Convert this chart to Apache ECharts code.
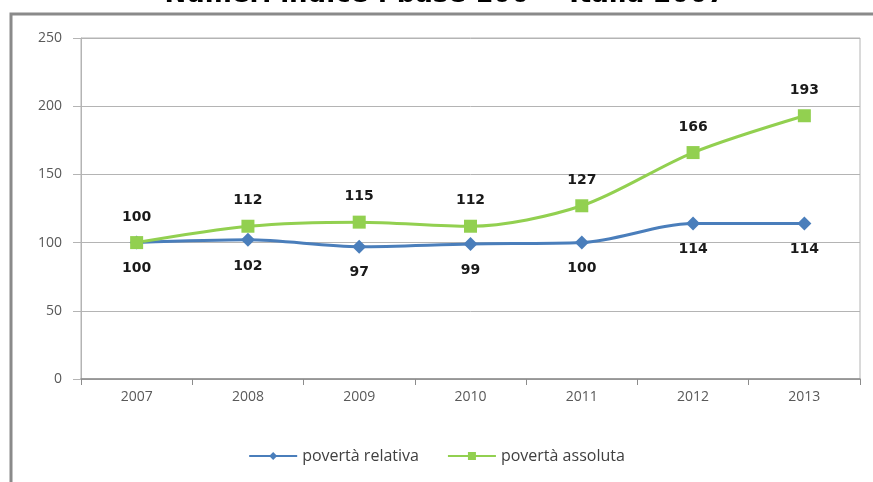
<!DOCTYPE html>
<html>
<head>
<meta charset="utf-8">
<script src="https://cdn.jsdelivr.net/npm/echarts@6/dist/echarts.min.js"></script>
<style>
  html, body { margin: 0; padding: 0; background: #fff; }
  #chart { width: 873px; height: 482px; }
</style>
</head>
<body>
<div id="chart"></div>
<script>
const years = ['2007', '2008', '2009', '2010', '2011', '2012', '2013'];
const relativa = [100, 102, 97, 99, 100, 114, 114];
const assoluta = [100, 112, 115, 112, 127, 166, 193];
const titleText = 'Numeri indice : base 100 = Italia 2007';

const blue = '#4A7EBB';
const green = '#92D050';

const chart = echarts.init(document.getElementById('chart'));

const option = {
  animation: false,
  backgroundColor: '#fff',
  graphic: [
    {
      // titolo tagliato in alto come nell'originale
      type: 'text',
      x: 445,
      y: 8,
      style: {
        text: titleText,
        align: 'center',
        verticalAlign: 'bottom',
        fontFamily: 'DejaVu Sans',
        fontSize: 26,
        fontWeight: 'bold',
        fill: '#000'
      },
      z: 10
    },
    {
      type: 'rect',
      shape: { x: 11, y: 14, width: 900, height: 500 },
      style: { fill: 'none', stroke: '#8a8a8a', lineWidth: 3 },
      z: 0
    }
  ],
  grid: {
    left: 81,
    right: 13,
    top: 38,
    height: 341,
    show: true,
    borderColor: '#b4b4b4',
    borderWidth: 1
  },
  legend: {
    bottom: 13,
    left: 'center',
    itemGap: 28,
    itemWidth: 48,
    itemHeight: 10,
    textStyle: { fontFamily: 'Open Sans', fontSize: 16, color: '#404040' },
    data: ['povertà relativa', 'povertà assoluta']
  },
  xAxis: {
    type: 'category',
    data: years,
    boundaryGap: true,
    axisLine: { lineStyle: { color: '#8c8c8c', width: 1.5 } },
    axisTick: { show: true, length: 6, lineStyle: { color: '#8c8c8c' } },
    axisLabel: { fontFamily: 'Open Sans', fontSize: 14, color: '#595959', margin: 11 },
    splitLine: { show: false }
  },
  yAxis: {
    type: 'value',
    min: 0,
    max: 250,
    interval: 50,
    axisLine: { show: true, lineStyle: { color: '#b4b4b4' } },
    axisTick: { show: true, length: 8, lineStyle: { color: '#b4b4b4' } },
    axisLabel: { fontFamily: 'Open Sans', fontSize: 14, color: '#595959', margin: 19 },
    splitLine: { show: true, lineStyle: { color: '#b4b4b4', width: 1 } }
  },
  series: [
    {
      name: 'povertà relativa',
      type: 'line',
      data: relativa,
      smooth: 0.3,
      symbol: 'diamond',
      symbolSize: 14,
      lineStyle: { color: blue, width: 3 },
      itemStyle: { color: blue },
      label: {
        show: true,
        position: 'bottom',
        distance: 12,
        fontFamily: 'DejaVu Sans',
        fontWeight: 'bold',
        fontSize: 14,
        color: '#1a1a1a'
      }
    },
    {
      name: 'povertà assoluta',
      type: 'line',
      data: assoluta,
      smooth: 0.3,
      symbol: 'rect',
      symbolSize: 13,
      lineStyle: { color: green, width: 3 },
      itemStyle: { color: green },
      label: {
        show: true,
        position: 'top',
        distance: 12,
        fontFamily: 'DejaVu Sans',
        fontWeight: 'bold',
        fontSize: 14,
        color: '#1a1a1a'
      }
    }
  ]
};

chart.setOption(option);
window.addEventListener('resize', () => chart.resize());
</script>
</body>
</html>
